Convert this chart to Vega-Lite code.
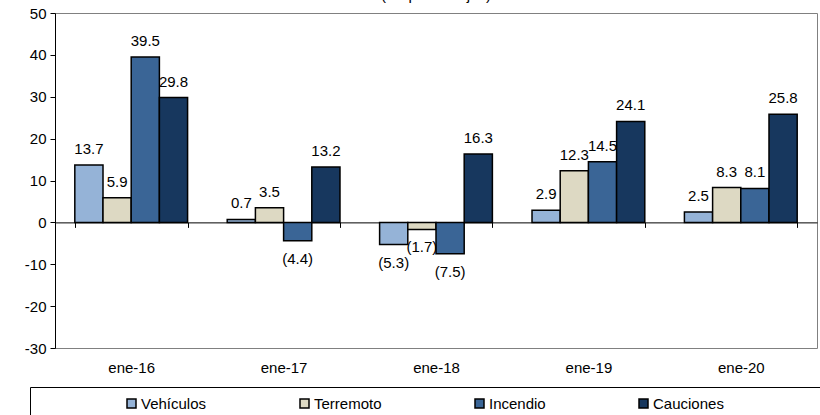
{
  "$schema": "https://vega.github.io/schema/vega-lite/v6.json",
  "autosize": {"type": "none"},
  "width": 762,
  "height": 335,
  "padding": {"left": 55, "top": 13, "right": 3, "bottom": 67},
  "title": {"text": "(En porcentajes)", "frame": "group", "offset": 3, "fontSize": 15, "fontWeight": "normal", "font": "Liberation Sans", "color": "black"},
  "config": {
    "view": {"stroke": "#808080", "strokeWidth": 1},
    "font": "Liberation Sans",
    "text": {"font": "Liberation Sans"}
  },
  "data": {
    "values": [
      {"fecha": "ene-16", "serie": "Vehículos", "valor": 13.7},
      {"fecha": "ene-16", "serie": "Terremoto", "valor": 5.9},
      {"fecha": "ene-16", "serie": "Incendio", "valor": 39.5},
      {"fecha": "ene-16", "serie": "Cauciones", "valor": 29.8},
      {"fecha": "ene-17", "serie": "Vehículos", "valor": 0.7},
      {"fecha": "ene-17", "serie": "Terremoto", "valor": 3.5},
      {"fecha": "ene-17", "serie": "Incendio", "valor": -4.4},
      {"fecha": "ene-17", "serie": "Cauciones", "valor": 13.2},
      {"fecha": "ene-18", "serie": "Vehículos", "valor": -5.3},
      {"fecha": "ene-18", "serie": "Terremoto", "valor": -1.7},
      {"fecha": "ene-18", "serie": "Incendio", "valor": -7.5},
      {"fecha": "ene-18", "serie": "Cauciones", "valor": 16.3},
      {"fecha": "ene-19", "serie": "Vehículos", "valor": 2.9},
      {"fecha": "ene-19", "serie": "Terremoto", "valor": 12.3},
      {"fecha": "ene-19", "serie": "Incendio", "valor": 14.5},
      {"fecha": "ene-19", "serie": "Cauciones", "valor": 24.1},
      {"fecha": "ene-20", "serie": "Vehículos", "valor": 2.5},
      {"fecha": "ene-20", "serie": "Terremoto", "valor": 8.3},
      {"fecha": "ene-20", "serie": "Incendio", "valor": 8.1},
      {"fecha": "ene-20", "serie": "Cauciones", "valor": 25.8}
    ]
  },
  "encoding": {
    "x": {
      "field": "fecha", "type": "nominal", "sort": null,
      "scale": {"paddingInner": 0.26, "paddingOuter": 0.13},
      "axis": {
        "title": null, "orient": "bottom",
        "offset": {"expr": "scale('y', 0) - height"},
        "tickBand": "extent", "tickSize": 5, "tickColor": "black",
        "domainColor": "black", "labelAngle": 0, "labelPadding": 133,
        "labelFontSize": 15, "labelColor": "black", "labelFont": "Liberation Sans"
      }
    },
    "xOffset": {"field": "serie", "sort": ["Vehículos", "Terremoto", "Incendio", "Cauciones"], "scale": {"paddingInner": 0}},
    "y": {
      "field": "valor", "type": "quantitative",
      "scale": {"domain": [-30, 50], "nice": false},
      "axis": {
        "title": null, "grid": false, "values": [-30, -20, -10, 0, 10, 20, 30, 40, 50],
        "labelExpr": "replace(datum.label, '−', '-')",
        "domainColor": "black", "tickColor": "black", "tickSize": 5, "labelPadding": 4,
        "labelFontSize": 15, "labelColor": "black", "labelFont": "Liberation Sans"
      }
    }
  },
  "layer": [
    {
      "mark": {"type": "bar", "stroke": "black", "strokeWidth": 1.5},
      "encoding": {
        "color": {
          "field": "serie", "type": "nominal",
          "scale": {"domain": ["Vehículos", "Terremoto", "Incendio", "Cauciones"], "range": ["#95B3D7", "#DDD9C3", "#3A6596", "#17375E"]},
          "legend": {
            "orient": "none", "legendX": -25, "legendY": 374, "direction": "horizontal",
            "title": " ", "titleOrient": "right", "titlePadding": 95,
            "gridAlign": "none", "columnPadding": 5, "symbolOffset": 85,
            "symbolType": "square", "symbolSize": 81, "symbolStrokeColor": "black", "symbolStrokeWidth": 1.5, "symbolOpacity": 1,
            "labelFontSize": 15, "labelOffset": 2, "labelColor": "black", "labelFont": "Liberation Sans",
            "strokeColor": "black", "fillColor": "white", "padding": 9
          }
        }
      }
    },
    {
      "transform": [{"filter": "datum.valor >= 0"}],
      "mark": {"type": "text", "baseline": "bottom", "dy": -8, "fontSize": 15, "color": "black"},
      "encoding": {"text": {"field": "valor", "type": "quantitative", "format": "(.1f"}}
    },
    {
      "transform": [{"filter": "datum.valor < 0"}],
      "mark": {"type": "text", "baseline": "top", "dy": 11, "fontSize": 15, "color": "black"},
      "encoding": {"text": {"field": "valor", "type": "quantitative", "format": "(.1f"}}
    }
  ]
}
